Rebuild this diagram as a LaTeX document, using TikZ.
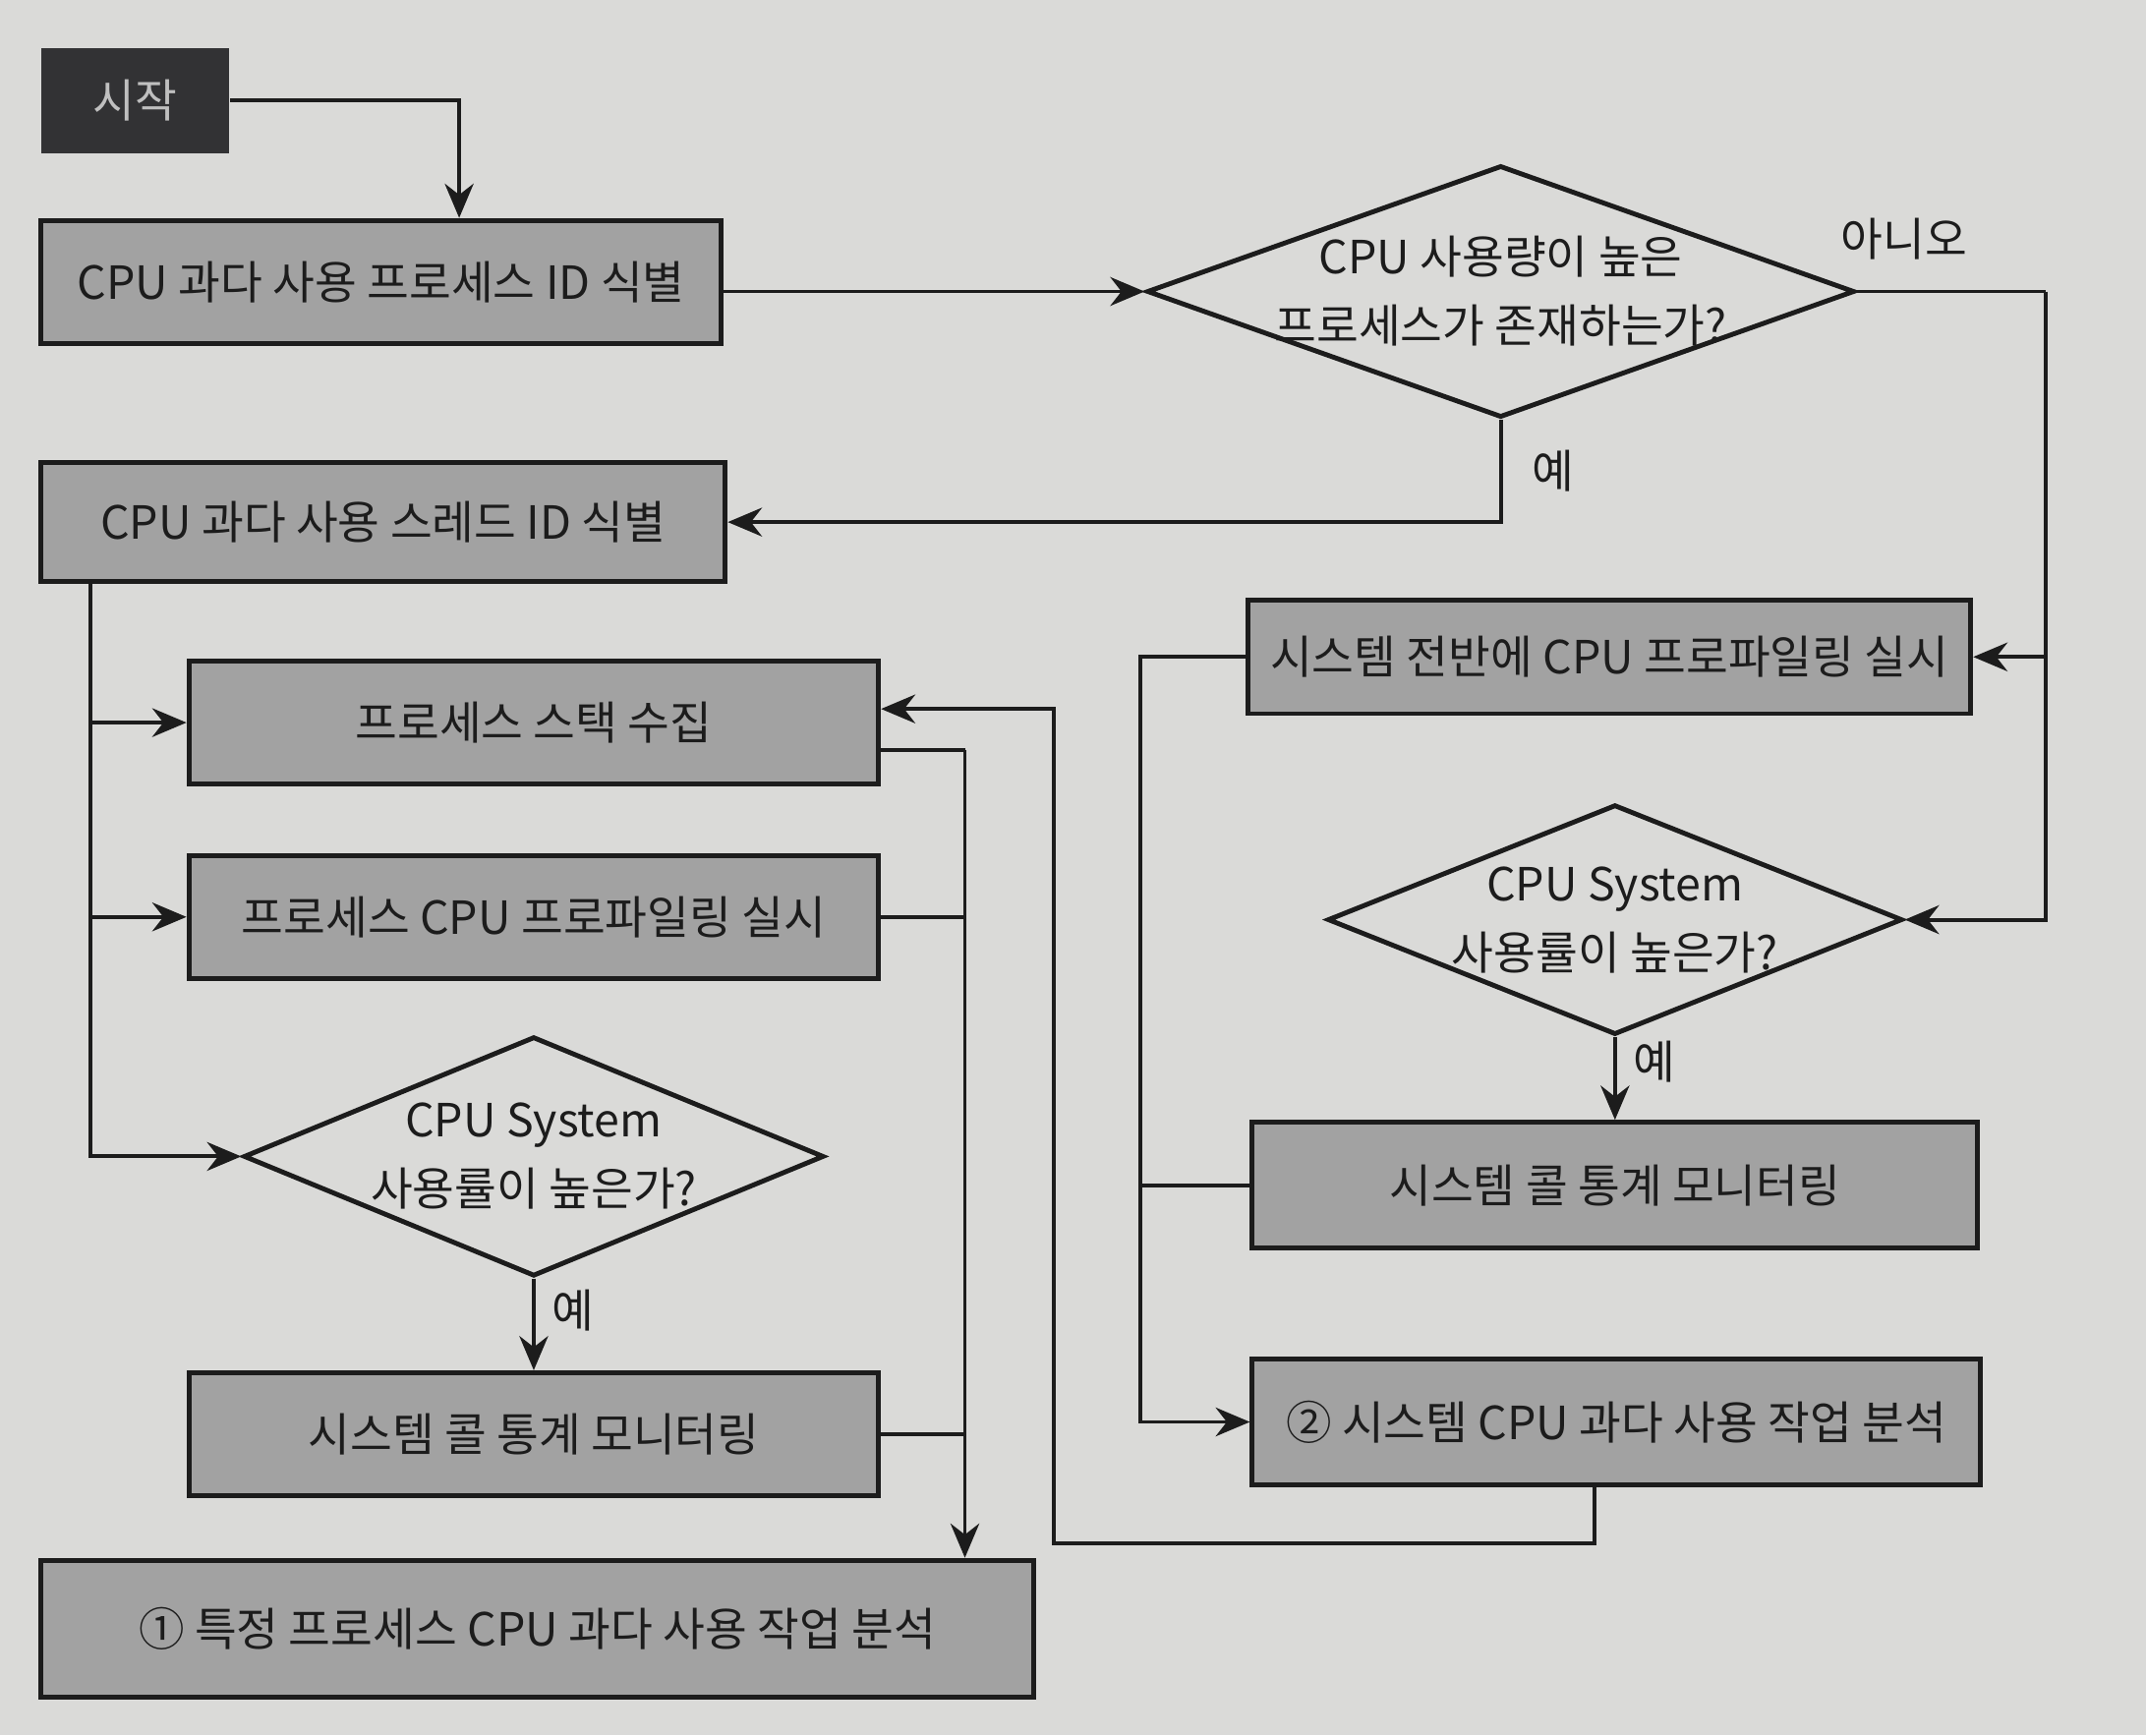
\documentclass[tikz,border=0pt]{standalone}
\usepackage{fontspec}
\setmainfont{Noto Sans CJK KR}
\usetikzlibrary{shapes.geometric,arrows.meta}
\definecolor{paper}{RGB}{218,218,216}
\definecolor{boxgray}{RGB}{162,162,162}
\definecolor{startgray}{RGB}{50,50,52}
\definecolor{ink}{RGB}{28,28,28}

\begin{document}
\begin{tikzpicture}[>={Stealth[length=2.5mm,width=2.1mm]},
					thick,
					draw=ink,
					text=ink,
					font=\fontsize{9.5}{14.3}\selectfont,
					process node/.style={rectangle,draw=ink,line width=1pt,fill=boxgray,minimum width=5.04cm,minimum height=0.9cm},
					decision node/.style={diamond,draw=ink,line width=1pt,inner sep=0pt},
					start node/.style={rectangle,fill=startgray,text=white!75!black,minimum width=1.37cm,minimum height=0.77cm}]

  \fill[paper] (0,0) rectangle (15.68,-12.68);

  % left column
  \node[start node] (start) at (0.985,-0.735) {시작};
  \node[process node,minimum width=4.97cm] (pid) at (2.785,-2.06) {CPU 과다 사용 프로세스 ID 식별};
  \node[process node,minimum width=5.0cm,minimum height=0.87cm] (tid) at (2.80,-3.815) {CPU 과다 사용 스레드 ID 식별};
  \node[process node] (stack) at (3.90,-5.28) {프로세스 스택 수집};
  \node[process node] (procprof) at (3.90,-6.70) {프로세스 CPU 프로파일링 실시};
  \node[decision node,minimum width=4.24cm,minimum height=1.75cm,
		label={[align=center]center:{CPU System\\사용률이 높은가?}}] (chkleft) at (3.90,-8.45) {};
  \node[process node] (sysleft) at (3.90,-10.48) {시스템 콜 통계 모니터링};
  \node[process node,minimum width=7.25cm,minimum height=1.0cm] (result1) at (3.925,-11.90) {① 특정 프로세스 CPU 과다 사용 작업 분석};

  % right column
  \node[decision node,minimum width=5.17cm,minimum height=1.84cm,
		label={[align=center]center:{CPU 사용량이 높은\\프로세스가 존재하는가?}}] (hasproc) at (10.965,-2.13) {};
  \node[process node,minimum width=5.28cm,minimum height=0.83cm] (sysprof) at (11.76,-4.80) {시스템 전반에 CPU 프로파일링 실시};
  \node[decision node,minimum width=4.2cm,minimum height=1.68cm,
		label={[align=center]center:{CPU System\\사용률이 높은가?}}] (chkright) at (11.80,-6.72) {};
  \node[process node,minimum width=5.30cm,minimum height=0.92cm] (sysright) at (11.80,-8.66) {시스템 콜 통계 모니터링};
  \node[process node,minimum width=5.32cm,minimum height=0.92cm] (result2) at (11.81,-10.39) {② 시스템 CPU 과다 사용 작업 분석};

  \coordinate (noturn) at (14.95,-2.13);
  \coordinate (lefttrunk) at ([xshift=0.38cm]tid.south west);
  \coordinate (collect) at (7.05,-5.48);
  \coordinate (loopback) at (7.70,-11.28);
  \coordinate (sysmerge) at (8.33,-4.80);

  \draw[->] (start.east) -| ([xshift=0.57cm]pid.north);
  \draw[->] (pid.east |- hasproc.west) -- (hasproc.west);

  % no branch
  \draw (hasproc.east) -- (noturn) node[above,pos=0.25,yshift=0.1cm] {아니오};
  \draw[->] (noturn) |- (chkright.east);
  \draw[->] (noturn |- sysprof.east) -- (sysprof.east);

  % yes branch
  \draw[->] (hasproc.south) |- (tid.east) node[right,pos=0.25,xshift=0.1cm] {예};
  \draw[->] (lefttrunk) |- (chkleft.west);
  \draw[->] (lefttrunk |- stack.west) -- (stack.west);
  \draw[->] (lefttrunk |- procprof.west) -- (procprof.west);
  \draw[->] (chkleft.south) -- (sysleft.north) node[right,pos=0.35] {예};

  \draw (stack.east |- collect) -- (collect);
  \draw[->] (collect) -- (collect |- result1.north);
  \draw (procprof.east) -- (procprof.east -| collect);
  \draw (sysleft.east) -- (sysleft.east -| collect);

  % system side
  \draw[->] (chkright.south) -- (sysright.north) node[right,pos=0.3] {예};
  \draw[->] (sysprof.west) -- (sysprof.west -| sysmerge) |- (result2.west);
  \draw (sysright.west) -- (sysright.west -| sysmerge);
  \draw[->] ([xshift=-0.16cm]result2.south) |- (loopback) |- ([yshift=0.1cm]stack.east);
\end{tikzpicture}
\end{document}
